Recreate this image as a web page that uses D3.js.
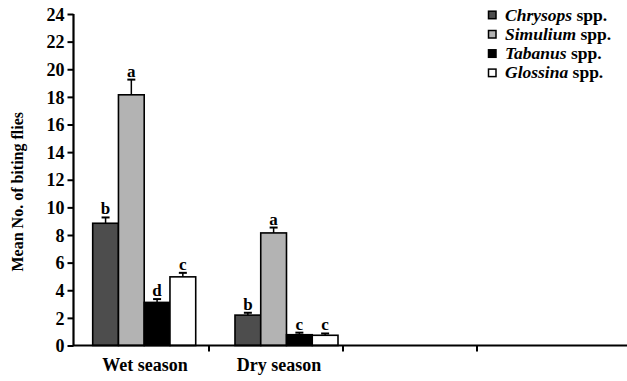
<!DOCTYPE html>
<html>
<head>
<meta charset="utf-8">
<script src="https://cdn.jsdelivr.net/npm/d3@7"></script>
<style>
  body { margin: 0; background: #fff; }
  svg { display: block; }
  svg text { font-family: 'Liberation Serif', 'Times New Roman', Times, serif !important; font-weight: bold; fill: #000; }
</style>
</head>
<body>
<div id="chart"></div>
<script>
// values
const seasons = ['Wet season', 'Dry season'];
const axisSlots = ['Wet season', 'Dry season', 'slot3', 'slot4'];
const species = ['Chrysops', 'Simulium', 'Tabanus', 'Glossina'];
const speciesFill = ['#4d4d4d', '#b3b3b3', '#000000', '#ffffff'];
const wetMeans = [8.85, 18.15, 3.12, 4.97];
const wetErr = [0.42, 1.1, 0.24, 0.29];
const wetLetters = ['b', 'a', 'd', 'c'];
const dryMeans = [2.2, 8.15, 0.78, 0.74];
const dryErr = [0.17, 0.39, 0.15, 0.13];
const dryLetters = ['b', 'a', 'c', 'c'];
const yTicks = [0, 2, 4, 6, 8, 10, 12, 14, 16, 18, 20, 22, 24];

const width = 627, height = 381;

const svg = d3.select('#chart')
  .append('svg')
  .attr('width', width)
  .attr('height', height)
  .attr('font-family', 'Liberation Serif, serif');

const y = d3.scaleLinear()
  .domain([0, 24])
  .range([345.5, 14]);

// category slots on the x axis (ticks sit between them)
const xSlot = d3.scaleBand()
  .domain(axisSlots)
  .range([75, 611]);

// bar groups
const xGroup = d3.scaleBand()
  .domain(seasons)
  .range([92.7, 338])
  .paddingInner(0.276);

const xSpecies = d3.scaleBand()
  .domain(species)
  .range([0, xGroup.bandwidth()]);

const rows = [];
seasons.forEach((s, si) => {
  const means = si === 0 ? wetMeans : dryMeans;
  const errs = si === 0 ? wetErr : dryErr;
  const letters = si === 0 ? wetLetters : dryLetters;
  species.forEach((sp, i) => {
    rows.push({ season: s, species: sp, mean: means[i], err: errs[i], letter: letters[i], fill: speciesFill[i] });
  });
});

// y axis
const yAxis = svg.append('g')
  .attr('transform', 'translate(73.5,0)')
  .call(d3.axisLeft(y).tickValues(yTicks).tickSize(6).tickPadding(3));
yAxis.attr('font-family', null).attr('font-size', null);
yAxis.select('.domain').attr('stroke', '#000').attr('stroke-width', 2.2)
  .attr('d', `M0,${y(24)}V${y(0)}`);
yAxis.selectAll('.tick line').attr('stroke', '#000').attr('stroke-width', 2);
yAxis.selectAll('.tick text')
  .style('font-size', '18px')
  .attr('dy', '0.34em');

svg.append('text')
  .attr('transform', `translate(23,${(y(0) + y(24)) / 2 + 12}) rotate(-90)`)
  .attr('text-anchor', 'middle')
  .style('font-size', '16px')
  .text('Mean No. of biting flies');

// bars
const g = svg.append('g');
g.selectAll('.bar')
  .data(rows)
  .enter().append('rect')
  .attr('class', 'bar')
  .attr('x', d => xGroup(d.season) + xSpecies(d.species))
  .attr('y', d => y(d.mean))
  .attr('width', xSpecies.bandwidth())
  .attr('height', d => y(0) - y(d.mean))
  .attr('fill', d => d.fill)
  .attr('stroke', '#000')
  .attr('stroke-width', 1.6);

// error bars
const eb = g.selectAll('.err')
  .data(rows)
  .enter().append('g')
  .attr('class', 'err')
  .attr('transform', d => `translate(${xGroup(d.season) + xSpecies(d.species) + xSpecies.bandwidth() / 2},0)`);
eb.append('line')
  .attr('x1', 0).attr('x2', 0)
  .attr('y1', d => y(d.mean))
  .attr('y2', d => y(d.mean + d.err))
  .attr('stroke', '#000').attr('stroke-width', 1.5);
eb.append('line')
  .attr('x1', -4).attr('x2', 4)
  .attr('y1', d => y(d.mean + d.err))
  .attr('y2', d => y(d.mean + d.err))
  .attr('stroke', '#000').attr('stroke-width', 2);
eb.append('text')
  .attr('x', 0)
  .attr('y', d => y(d.mean + d.err) - 3)
  .attr('text-anchor', 'middle')
  .style('font-size', '17px')
  .text(d => d.letter);

// x axis
svg.append('line')
  .attr('x1', 73).attr('x2', width)
  .attr('y1', y(0)).attr('y2', y(0))
  .attr('stroke', '#000').attr('stroke-width', 2.2);
svg.selectAll('.xtick')
  .data(axisSlots.slice(1))
  .enter().append('line')
  .attr('class', 'xtick')
  .attr('x1', d => xSlot(d)).attr('x2', d => xSlot(d))
  .attr('y1', y(0)).attr('y2', y(0) + 6)
  .attr('stroke', '#000').attr('stroke-width', 2);
svg.selectAll('.xlabel')
  .data(seasons)
  .enter().append('text')
  .attr('class', 'xlabel')
  .attr('x', d => xSlot(d) + xSlot.bandwidth() / 2 + 3)
  .attr('y', 371)
  .attr('text-anchor', 'middle')
  .style('font-size', '18px')
  .text(d => d);

// legend
const legend = svg.append('g').attr('transform', 'translate(488,0)');
const item = legend.selectAll('.item')
  .data(species)
  .enter().append('g')
  .attr('class', 'item')
  .attr('transform', (d, i) => `translate(0,${15 + i * 19.3})`);
item.append('rect')
  .attr('x', 0.5).attr('y', -3.8)
  .attr('width', 7.5).attr('height', 7.5)
  .attr('fill', (d, i) => speciesFill[i])
  .attr('stroke', '#000').attr('stroke-width', 1.5);
const lt = item.append('text')
  .attr('x', 17)
  .attr('y', 5.5)
  .style('font-size', '17.5px');
lt.append('tspan').style('font-style', 'italic').text(d => d);
lt.append('tspan').text(' spp.');
</script>
</body>
</html>
